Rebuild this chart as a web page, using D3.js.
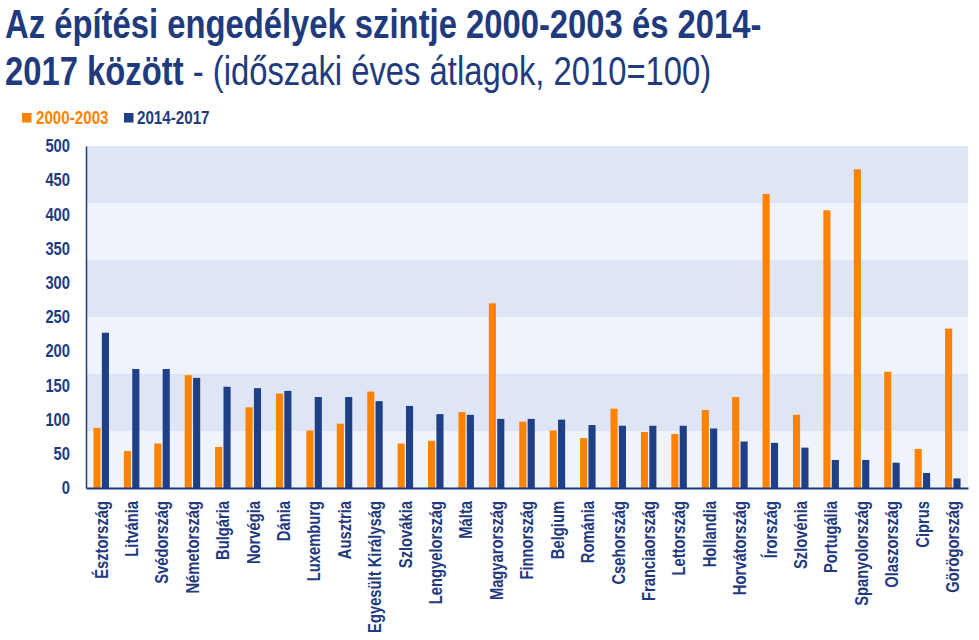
<!DOCTYPE html>
<html>
<head>
<meta charset="utf-8">
<script src="https://cdn.jsdelivr.net/npm/d3@7"></script>
<style>
  body { margin: 0; background: #fff; }
  svg { display: block; }
  text { font-family: "Liberation Sans", Arial, sans-serif; }
</style>
</head>
<body>
<svg id="chart" width="979" height="640"></svg>
<script>
const categories = ["Észtország","Litvánia","Svédország","Németország","Bulgária","Norvégia","Dánia","Luxemburg","Ausztria","Egyesült Királyság","Szlovákia","Lengyelország","Málta","Magyarország","Finnország","Belgium","Románia","Csehország","Franciaország","Lettország","Hollandia","Horvátország","Írország","Szlovénia","Portugália","Spanyolország","Olaszország","Ciprus","Görögország"];
const values2000_2003 = [88,54,65,165,60,118,138,84,94,141,65,69,111,270,97,84,73,116,82,79,114,133,430,107,406,466,170,57,233];
const values2014_2017 = [227,174,174,161,148,146,142,133,133,127,120,108,107,101,101,100,92,91,91,91,87,68,66,59,41,41,37,22,14];
const seriesNames = ["2000-2003","2014-2017"];
const seriesColors = ["#FF8300","#1F3F87"];
const yTicks = [0,50,100,150,200,250,300,350,400,450,500];
const bandEdges = [0,500/6,1000/6,250,2000/6,2500/6,500];

const navy = "#1F3A7D";
const NX = 0.82; // horizontal condensation to emulate a narrow typeface
const svg = d3.select("#chart");
const m = {left: 86, right: 968, top: 146, bottom: 488};

// Title
const t1 = svg.append("text").attr("transform",`translate(5,38) scale(${NX},1)`)
  .attr("fill",navy).style("font-weight","bold").style("font-size","40px")
  .text("Az építési engedélyek szintje 2000-2003 és 2014-");
const t2 = svg.append("text").attr("transform",`translate(5,85) scale(${NX},1)`)
  .attr("fill",navy).style("font-size","40px");
t2.append("tspan").style("font-weight","bold").text("2017 között");
t2.append("tspan").style("font-weight","normal").text(" - (időszaki éves átlagok, 2010=100)");

// Legend
const leg = svg.append("g");
[[22,36],[124,137]].forEach((p,i)=>{
  leg.append("rect").attr("x",p[0]).attr("y",113).attr("width",9.5).attr("height",9.5).attr("fill",seriesColors[i]);
  leg.append("text").attr("transform",`translate(${p[1]},124) scale(${NX},1)`)
    .attr("fill", i===0 ? seriesColors[0] : navy)
    .style("font-weight","bold").style("font-size","18.5px").text(seriesNames[i]);
});

const y = d3.scaleLinear().domain([0,500]).range([m.bottom, m.top]);
const x0 = d3.scaleBand().domain(categories).range([m.left, m.right]).paddingInner(0.49).paddingOuter(0.245);
const x1 = d3.scaleBand().domain(seriesNames).range([0, x0.bandwidth()]).paddingInner(0.15);

// Background bands
const bands = d3.range(bandEdges.length-1).map(i => ({lo: bandEdges[i], hi: bandEdges[i+1], i}));
svg.append("g").selectAll("rect").data(bands).join("rect")
  .attr("x", m.left).attr("width", m.right - m.left)
  .attr("y", d => y(d.hi)).attr("height", d => y(d.lo) - y(d.hi))
  .attr("fill", d => d.i % 2 === 0 ? "#EFF3FB" : "#DEE6F5");

// Bars
const data = categories.map((c,i)=>({c, v:[values2000_2003[i], values2014_2017[i]]}));
const g = svg.append("g").selectAll("g").data(data).join("g")
  .attr("transform", d => `translate(${x0(d.c)},0)`);
g.selectAll("rect").data(d => d.v.map((v,k)=>({k, v}))).join("rect")
  .attr("x", d => x1(seriesNames[d.k])).attr("width", x1.bandwidth())
  .attr("y", d => y(d.v)).attr("height", d => y(0) - y(d.v))
  .attr("fill", d => seriesColors[d.k]);

// Y axis
const ya = svg.append("g").attr("transform",`translate(${m.left},0)`)
  .call(d3.axisLeft(y).tickValues(yTicks).tickSize(0).tickPadding(16));
ya.select(".domain").attr("stroke", navy).attr("stroke-width",1.5);
ya.attr("font-family",null).attr("font-size",null);
ya.selectAll("text").attr("fill",navy)
  .style("font-weight","bold").style("font-size","18px")
  .attr("transform",`scale(${NX},1)`).attr("x",-16/NX);

// X axis
const xa = svg.append("g").attr("transform",`translate(0,${m.bottom})`)
  .call(d3.axisBottom(x0).tickSize(0));
xa.select(".domain").attr("stroke", navy).attr("stroke-width",2);
xa.attr("font-family",null).attr("font-size",null);
xa.selectAll("text").attr("fill",navy)
  .style("font-weight","bold").style("font-size","18px")
  .attr("transform",`rotate(-90) scale(${NX},1)`).attr("text-anchor","end")
  .attr("x",-13/NX).attr("y",0).attr("dy","0.35em");
</script>
</body>
</html>
